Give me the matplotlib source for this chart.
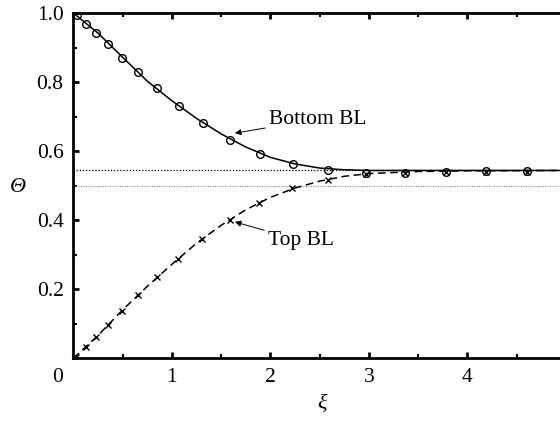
import numpy as np
import matplotlib
matplotlib.use("Agg")
import matplotlib.pyplot as plt
from matplotlib.ticker import MultipleLocator

plt.rcParams['font.family'] = ['Liberation Serif', 'DejaVu Serif']
plt.rcParams['mathtext.fontset'] = 'stix'

# markers
bottom_x = [0.038, 0.126, 0.234, 0.349, 0.494, 0.66, 0.85, 1.07, 1.32, 1.59, 1.895,
            2.233, 2.589, 2.972, 3.368, 3.781, 4.19, 4.603]
bottom_y = [0.993, 0.969, 0.942, 0.910, 0.871, 0.829, 0.783, 0.731, 0.681, 0.633, 0.593,
            0.563, 0.544, 0.536, 0.536, 0.539, 0.542, 0.542]
top_x = [0.027, 0.126, 0.234, 0.349, 0.494, 0.66, 0.853, 1.066, 1.31, 1.59, 1.888,
         2.223, 2.589, 2.972, 3.368, 3.781, 4.19, 4.603]
top_y = [0.005, 0.034, 0.063, 0.097, 0.138, 0.183, 0.235, 0.289, 0.346, 0.401, 0.451,
         0.492, 0.517, 0.535, 0.538, 0.539, 0.540, 0.540]

# smooth curves
curve_x = [0, 0.25, 0.5, 0.75, 1.0, 1.25, 1.5, 1.75, 2.0, 2.25, 2.5, 2.75, 3.0, 3.5, 4.0, 5.0]
bottom_curve = [1.0, 0.942, 0.872, 0.803, 0.746, 0.695, 0.650, 0.612, 0.582, 0.563,
                0.551, 0.546, 0.544, 0.544, 0.544, 0.544]
top_curve = [0.0, 0.066, 0.140, 0.208, 0.272, 0.333, 0.385, 0.430, 0.466, 0.493,
             0.513, 0.527, 0.535, 0.541, 0.543, 0.544]
theta_mean = 0.544
theta_half = 0.5

fig = plt.figure(figsize=(5.6, 4.23), dpi=100)
ax = fig.add_axes([73.3 / 560, 64.7 / 423, 492.5 / 560, 345.3 / 423])

ax.axhline(theta_mean, color='black', lw=0.9, ls=(0, (1, 1.5)))
ax.axhline(theta_half, color='#888888', lw=0.8, ls=(0, (1, 1.2)))

ax.plot(curve_x, bottom_curve, color='black', lw=1.1)
ax.plot(curve_x, top_curve, color='black', lw=1.1, ls=(0, (5, 3)))
ax.plot(bottom_x, bottom_y, 'o', mfc='none', mec='black', ms=5.5, mew=1.0)
ax.plot(top_x, top_y, 'x', color='black', ms=5, mew=1.0)

ax.set_xlim(0, 5)
ax.set_ylim(0, 1)
ax.xaxis.set_minor_locator(MultipleLocator(0.5))
ax.yaxis.set_minor_locator(MultipleLocator(0.1))
ax.set_xticks([1, 2, 3, 4, 5])
ax.set_yticks([0.2, 0.4, 0.6, 0.8, 1.0])
ax.set_yticklabels(['0.2', '0.4', '0.6', '0.8', '1.0'])
ax.tick_params(which='both', direction='in', top=True, right=True, labelsize=15.5)
ax.tick_params(which='major', length=4, width=2, pad=7)
ax.tick_params(which='minor', length=3, width=1.5)
for s in ax.spines.values():
    s.set_linewidth(2)

fig.text(58 / 560, 1 - 377 / 423, '0', fontsize=15.5, ha='center', va='center')
fig.text(17.5 / 560, 1 - 187 / 423, 'Θ', fontsize=16, style='italic', ha='center', va='center')
fig.text(322 / 560, 1 - 405 / 423, 'ξ', fontsize=16, style='italic', ha='center', va='center')

arrow = dict(arrowstyle='-|>', color='black', lw=0.7, mutation_scale=9, shrinkA=1, shrinkB=0)
ax.annotate('Bottom BL', xy=(1.64, 0.652), xytext=(1.99, 0.693), fontsize=15.5,
            va='center', ha='left', arrowprops=arrow)
ax.annotate('Top BL', xy=(1.64, 0.395), xytext=(1.98, 0.34), fontsize=15.5,
            va='center', ha='left', arrowprops=arrow)

fig.savefig('out.png', dpi=100)
